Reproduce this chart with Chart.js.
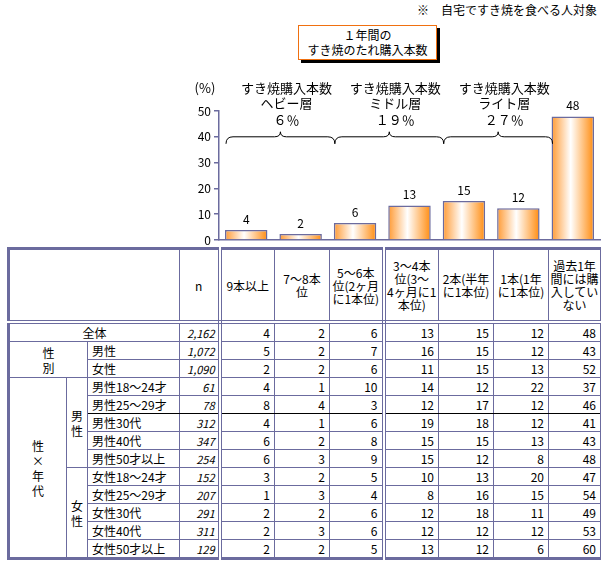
<!DOCTYPE html>
<html lang="ja">
<head>
<meta charset="UTF-8" />
<title>1年間のすき焼のたれ購入本数</title>
<style>
  body { margin:0; width:601px; height:563px; background:#fff; position:relative;
         font-family:"Noto Sans CJK JP", sans-serif; color:#000; overflow:hidden; }
  #note { position:absolute; top:3px; right:4px; font-size:12px; line-height:14px; }
  #title { position:absolute; left:298px; top:25px; width:137px; height:32px;
           border:1px solid #f07010; box-shadow:3px 3px 0 #000; background:#fff;
           font-size:12px; line-height:15px; text-align:center; padding-top:1px; }
  #chart { position:absolute; left:0; top:0; }
  table { position:absolute; left:7px; top:247px; width:593px; border-collapse:collapse;
          table-layout:fixed; border:3px solid #6b6b9e; font-size:12px; }
  td { border:1px solid #6b6b9e; padding:0 4px; height:17px; line-height:16px;
       white-space:nowrap; overflow:hidden; }
  tr.head td { height:70px; line-height:13px; text-align:center; vertical-align:middle;
               border-bottom:4px double #6b6b9e; padding:0 1px; }
  td.num { text-align:right; }
  td.n { text-align:right; font-style:italic; font-size:11px; padding-right:3px; }
  td.dbl { border-right:4px double #6b6b9e; }
  td.grp { text-align:center; line-height:15px; }
  tr.black td.lbl, tr.black td.n, tr.black td.num { border-bottom:1px solid #000; }
</style>
</head>
<body>
<div id="note">※　自宅ですき焼を食べる人対象</div>
<div id="title">１年間の<br>すき焼のたれ購入本数</div>
<canvas id="chart" width="601" height="246"></canvas>
<table id="tbl"></table>

<script src="https://cdn.jsdelivr.net/npm/chart.js"></script>
<script>
// categories (table header / chart x)
const categories = [
  '9本以上', '7～8本<br>位', '5～6本<br>位(2ヶ月<br>に1本位)', '3～4本<br>位(3～<br>4ヶ月に1<br>本位)',
  '2本(半年<br>に1本位)', '1本(1年<br>に1本位)', '過去1年<br>間には購<br>入してい<br>ない'
];
const barValues = [3.9, 2.3, 6.6, 13.4, 15.1, 12.3, 47.9];
const barLabels = ['4', '2', '6', '13', '15', '12', '48'];
const yTicks = [0, 10, 20, 30, 40, 50];

// brace annotations
const braceTitles = ['すき焼購入本数', 'すき焼購入本数', 'すき焼購入本数'];
const braceLayers = ['ヘビー層', 'ミドル層', 'ライト層'];
const bracePcts = ['６％', '１９％', '２７％'];
const braceRanges = [[0, 1], [2, 3], [4, 5]];

// table rows
const rowLabels = ['全体', '男性', '女性',
  '男性18～24才', '男性25～29才', '男性30代', '男性40代', '男性50才以上',
  '女性18～24才', '女性25～29才', '女性30代', '女性40代', '女性50才以上'];
const rowN = ['2,162', '1,072', '1,090', '61', '78', '312', '347', '254',
  '152', '207', '291', '311', '129'];
const rowValues = [
  [4, 2, 6, 13, 15, 12, 48],
  [5, 2, 7, 16, 15, 12, 43],
  [2, 2, 6, 11, 15, 13, 52],
  [4, 1, 10, 14, 12, 22, 37],
  [8, 4, 3, 12, 17, 12, 46],
  [4, 1, 6, 19, 18, 12, 41],
  [6, 2, 8, 15, 15, 13, 43],
  [6, 3, 9, 15, 12, 8, 48],
  [3, 2, 5, 10, 13, 20, 47],
  [1, 3, 4, 8, 16, 15, 54],
  [2, 2, 6, 12, 18, 11, 49],
  [2, 3, 6, 12, 12, 12, 53],
  [2, 2, 5, 13, 12, 6, 60]
];

const LINE = '#6b6b9e';
const ORANGE = '#ff9426';
const FONT = '"Noto Sans CJK JP", sans-serif';
const BAR_PCT = 0.78;

// ---- table ----
function buildTable() {
  const t = document.getElementById('tbl');
  let html = '<colgroup><col style="width:58px"><col style="width:21px"><col style="width:92px">' +
    '<col style="width:40px"><col style="width:55px"><col style="width:55px"><col style="width:54px">' +
    '<col style="width:55px"><col style="width:55px"><col style="width:55px"><col style="width:53px"></colgroup>';
  html += '<tr class="head"><td colspan="3"></td><td class="dbl">n</td>';
  categories.forEach((c, i) => { html += `<td${i === 2 ? ' class="dbl"' : ''}>${c}</td>`; });
  html += '</tr>';
  const vals = r => rowValues[r].map((v, i) => `<td class="num${i === 2 ? ' dbl' : ''}">${v}</td>`).join('');
  rowLabels.forEach((lab, r) => {
    let lead = '';
    if (r === 0) lead = `<td colspan="3" style="text-align:center">${lab}</td>`;
    else {
      if (r === 1) lead += '<td class="grp" colspan="2" rowspan="2">性<br>別</td>';
      if (r === 3) lead += '<td class="grp" rowspan="10">性<br>×<br>年<br>代</td>';
      if (r === 3) lead += '<td class="grp" rowspan="5" style="padding:0">男<br>性</td>';
      if (r === 8) lead += '<td class="grp" rowspan="5" style="padding:0">女<br>性</td>';
      lead += `<td class="lbl">${lab}</td>`;
    }
    html += `<tr${r === 4 ? ' class="black"' : ''}>${lead}<td class="n dbl">${rowN[r]}</td>${vals(r)}</tr>`;
  });
  t.innerHTML = html;
}
buildTable();

// ---- chart ----
function barGradient(ctx) {
  const chart = ctx.chart;
  if (!chart.chartArea) return ORANGE;
  const x = chart.scales.x;
  const c = x.getPixelForValue(ctx.dataIndex);
  const w = x.width / categories.length * BAR_PCT;
  const g = chart.ctx.createLinearGradient(c - w / 2, 0, c + w / 2, 0);
  g.addColorStop(0, '#ff9a33');
  g.addColorStop(0.45, '#ffffff');
  g.addColorStop(1, '#ff8c10');
  return g;
}

const extras = {
  id: 'extras',
  afterDatasetsDraw(chart) {
    const { ctx } = chart;
    const meta = chart.getDatasetMeta(0);
    ctx.save();
    ctx.fillStyle = '#000';
    ctx.font = '12px ' + FONT;
    ctx.textAlign = 'center';
    ctx.textBaseline = 'middle';
    meta.data.forEach((el, i) => ctx.fillText(barLabels[i], el.x, el.y - 11));
    ctx.restore();
  },
  afterDraw(chart) {
    const { ctx } = chart;
    const x = chart.scales.x, y = chart.scales.y;
    const half = x.width / categories.length / 2;
    const yb = y.getPixelForValue(40);
    ctx.save();
    ctx.fillStyle = '#000';
    ctx.strokeStyle = '#000';
    ctx.lineWidth = 1;
    ctx.font = '13px ' + FONT;
    ctx.textAlign = 'center';
    ctx.textBaseline = 'middle';
    ctx.fillText('(%)', 205, yb - 49);
    braceRanges.forEach(([a, b], i) => {
      const L = x.getPixelForValue(a) - half + 7;
      const R = x.getPixelForValue(b) + half + 7;
      const C = (L + R) / 2;
      ctx.beginPath();
      ctx.moveTo(L, yb + 7);
      ctx.quadraticCurveTo(L, yb, L + 7, yb);
      ctx.lineTo(C - 6, yb);
      ctx.quadraticCurveTo(C, yb, C, yb - 5);
      ctx.quadraticCurveTo(C, yb, C + 6, yb);
      ctx.lineTo(R - 7, yb);
      ctx.quadraticCurveTo(R, yb, R, yb + 7);
      ctx.stroke();
      const tx = C + 6;
      ctx.fillText(braceTitles[i], tx, yb - 49);
      ctx.fillText(braceLayers[i], tx, yb - 34);
      ctx.fillText(bracePcts[i], tx, yb - 17);
    });
    ctx.restore();
  }
};

new Chart(document.getElementById('chart'), {
  type: 'bar',
  data: {
    labels: categories,
    datasets: [{
      data: barValues,
      backgroundColor: barGradient,
      borderColor: LINE,
      borderWidth: 1.5,
      barPercentage: BAR_PCT,
      categoryPercentage: 1
    }]
  },
  options: {
    responsive: false,
    animation: false,
    layout: { padding: { top: 111, right: 1, left: 0, bottom: 0 } },
    plugins: { legend: { display: false }, tooltip: { enabled: false } },
    scales: {
      x: {
        ticks: { display: false },
        grid: { display: false },
        border: { color: LINE, width: 1.5 },
        afterFit: s => { s.height = 6; }
      },
      y: {
        min: 0, max: 50,
        afterBuildTicks: s => { s.ticks = yTicks.map(v => ({ value: v })); },
        ticks: { color: '#000', font: { size: 12, family: FONT }, padding: 3 },
        grid: { drawOnChartArea: false, tickLength: 5, color: LINE, lineWidth: 1.5 },
        border: { color: LINE, width: 1.5 },
        afterFit: s => { s.width = 219; s.paddingTop = 0; s.paddingBottom = 0; }
      }
    }
  },
  plugins: [extras]
});
</script>
</body>
</html>
